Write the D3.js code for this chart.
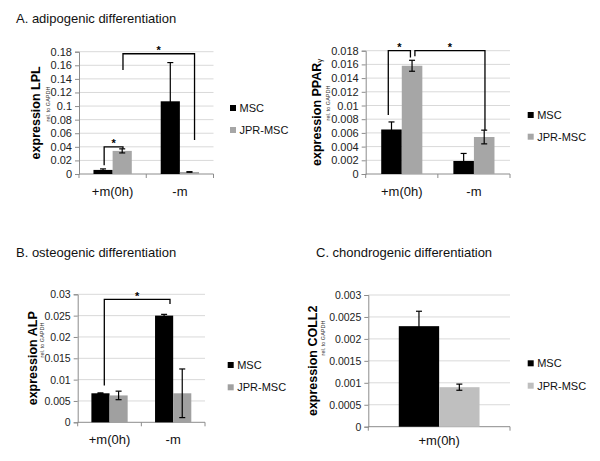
<!DOCTYPE html>
<html><head><meta charset="utf-8">
<script src="https://cdn.jsdelivr.net/npm/d3@7"></script>
<style>
html,body{margin:0;padding:0;background:#fff;}
svg{display:block;font-family:"Liberation Sans",Arial,sans-serif;}
</style></head>
<body><svg id="c" width="600" height="461"></svg>
<script>
// ---------- data ----------
const seriesNames = ["MSC", "JPR-MSC"];
const catsTwo = ["+m(0h)", "-m"];
const catsOne = ["+m(0h)"];

const lplMSC = [0.006, 0.107];
const lplMSCErr = [0.0015, 0.057];
const lplJPR = [0.034, 0.003];
const lplJPRErr = [0.003, 0.0004];
const lplTicks = [0, 0.02, 0.04, 0.06, 0.08, 0.1, 0.12, 0.14, 0.16, 0.18];
const lplTickLabels = ["0", "0.02", "0.04", "0.06", "0.08", "0.1", "0.12", "0.14", "0.16", "0.18"];

const pparMSC = [0.0065, 0.0019];
const pparMSCErr = [0.0011, 0.0011];
const pparJPR = [0.0158, 0.0054];
const pparJPRErr = [0.0008, 0.0010];
const pparTicks = [0, 0.002, 0.004, 0.006, 0.008, 0.01, 0.012, 0.014, 0.016, 0.018];
const pparTickLabels = ["0", "0.002", "0.004", "0.006", "0.008", "0.01", "0.012", "0.014", "0.016", "0.018"];

const alpMSC = [0.0068, 0.025];
const alpMSCErr = [0.0001, 0.0003];
const alpJPR = [0.0063, 0.0068];
const alpJPRErr = [0.001, 0.0057];
const alpTicks = [0, 0.005, 0.01, 0.015, 0.02, 0.025, 0.03];
const alpTickLabels = ["0", "0.005", "0.01", "0.015", "0.02", "0.025", "0.03"];

const collMSC = [0.00229];
const collMSCErr = [0.00034];
const collJPR = [0.0009];
const collJPRErr = [0.00007];
const collTicks = [0, 0.0005, 0.001, 0.0015, 0.002, 0.0025, 0.003];
const collTickLabels = ["0", "0.0005", "0.001", "0.0015", "0.002", "0.0025", "0.003"];

// significance brackets: [leftCat, leftFrac, leftBottom, top, rightCat, rightFrac, rightBottom]
const lplBrackets = [[0, 0.374, 0.013, 0.040, 0, 0.654, 0.037], [0, 0.654, 0.153, 0.177, 1, 0.718, 0.05]];
const pparBrackets = [[0, 0.313, 0.0086, 0.018, 0, 0.62, 0.0170], [0, 0.682, 0.0172, 0.018, 1, 0.653, 0.0064]];
const alpBrackets = [[0, 0.418, 0.0086, 0.0288, 1, 0.45, 0.0277]];
const collBrackets = [];

const titles = ["A. adipogenic differentiation", "B. osteogenic differentiation", "C. chondrogenic differentiation"];

// ---------- drawing ----------
const svg = d3.select("#c");
const gridColor = "#d9d9d9", axisColor = "#8c8c8c";

titles.forEach((t, i) => {
  const pos = [[16, 22.7], [16, 257], [316, 257]][i];
  svg.append("text").attr("x", pos[0]).attr("y", pos[1]).attr("font-size", 13).attr("fill", "#111").text(t);
});

function panel(cfg) {
  const g = svg.append("g");
  const y = d3.scaleLinear().domain([0, cfg.ticks[cfg.ticks.length - 1]]).range([cfg.yb, cfg.yt]);
  const x = d3.scaleBand().domain(cfg.cats).range([cfg.x0, cfg.x1]).paddingInner(0).paddingOuter(0);
  const xs = d3.scaleBand().domain(seriesNames).range([0, x.bandwidth()]).paddingInner(0).paddingOuter(0.755);

  // gridlines
  g.append("g").selectAll("line").data(cfg.ticks.slice(1)).join("line")
    .attr("x1", cfg.x0).attr("x2", cfg.x1).attr("y1", d => y(d)).attr("y2", d => y(d))
    .attr("stroke", gridColor).attr("stroke-width", 1);

  // y axis
  const yAxis = d3.axisLeft(y).tickValues(cfg.ticks).tickSize(4).tickPadding(3)
    .tickFormat((d, i) => cfg.tickLabels[i]);
  const ya = g.append("g").attr("transform", `translate(${cfg.x0},0)`).call(yAxis);
  ya.select(".domain").attr("stroke", axisColor);
  ya.selectAll(".tick line").attr("stroke", axisColor);
  ya.selectAll(".tick text").attr("font-size", cfg.tickFont).attr("fill", "#222")
    .attr("font-family", "'Liberation Sans',Arial,sans-serif");

  // x axis
  const xa = g.append("g").attr("transform", `translate(0,${cfg.yb})`)
    .call(d3.axisBottom(x).tickSize(0).tickPadding(cfg.xLabPad));
  xa.select(".domain").remove();
  xa.append("line").attr("x1", cfg.x0).attr("x2", cfg.x1).attr("stroke", axisColor);
  const bounds = [cfg.x0].concat(cfg.cats.map(c => x(c) + x.bandwidth()));
  xa.selectAll(".bnd").data(bounds).join("line").attr("class", "bnd")
    .attr("x1", d => d).attr("x2", d => d).attr("y1", 0).attr("y2", 4).attr("stroke", axisColor);
  xa.selectAll(".tick text").attr("font-size", 13).attr("fill", "#111")
    .attr("font-family", "'Liberation Sans',Arial,sans-serif");

  // bars
  const series = [{ name: "MSC", vals: cfg.msc, errs: cfg.mscErr, color: "#000" },
                  { name: "JPR-MSC", vals: cfg.jpr, errs: cfg.jprErr, color: cfg.jprColor }];
  series.forEach(s => {
    const data = cfg.cats.map((c, i) => ({ c, v: s.vals[i], e: s.errs[i] }));
    g.append("g").selectAll("rect").data(data).join("rect")
      .attr("x", d => x(d.c) + xs(s.name)).attr("width", xs.bandwidth())
      .attr("y", d => y(d.v)).attr("height", d => y(0) - y(d.v)).attr("fill", s.color);
    const eb = g.append("g").attr("stroke", "#000").attr("stroke-width", 1.2);
    data.forEach(d => {
      const cx = x(d.c) + xs(s.name) + xs.bandwidth() / 2;
      const yt = y(d.v + d.e), ybt = y(Math.max(0, d.v - d.e));
      eb.append("line").attr("x1", cx).attr("x2", cx).attr("y1", yt).attr("y2", ybt);
      eb.append("line").attr("x1", cx - 3).attr("x2", cx + 3).attr("y1", yt).attr("y2", yt);
      eb.append("line").attr("x1", cx - 3).attr("x2", cx + 3).attr("y1", ybt).attr("y2", ybt);
    });
  });

  // brackets
  cfg.brackets.forEach(b => {
    const xl = x(cfg.cats[b[0]]) + b[1] * x.bandwidth();
    const xr = x(cfg.cats[b[4]]) + b[5] * x.bandwidth();
    const pts = [[xl, y(b[2])], [xl, y(b[3])], [xr, y(b[3])], [xr, y(b[6])]];
    g.append("path").attr("d", d3.line()(pts)).attr("fill", "none")
      .attr("stroke", "#000").attr("stroke-width", 1.3);
    g.append("text").attr("x", (xl + xr) / 2).attr("y", y(b[3]) + 0.5)
      .attr("text-anchor", "middle").attr("font-size", 11).attr("font-weight", "bold").text("*");
  });

  // y label
  const yl = g.append("text").attr("transform", `translate(${cfg.labX},${(cfg.yt + cfg.yb) / 2}) rotate(-90)`)
    .attr("text-anchor", "middle").attr("dominant-baseline", "central")
    .attr("font-size", 12.5).attr("font-weight", "bold").attr("fill", "#000");
  yl.append("tspan").text(cfg.label);
  if (cfg.labelSuffix) yl.append("tspan").attr("font-size", 8).attr("font-weight", "normal").attr("dy", 1.5).text(cfg.labelSuffix);
  g.append("text").attr("transform", `translate(${cfg.subX},${cfg.subY}) rotate(-90)`)
    .attr("text-anchor", "middle").attr("dominant-baseline", "central")
    .attr("font-size", 5.5).attr("fill", "#333").text("rel. to GAPDH");

  // legend
  series.forEach((s, i) => {
    const ly = cfg.legY + i * cfg.legGap;
    g.append("rect").attr("x", cfg.legX).attr("y", ly - 3).attr("width", 6).attr("height", 6).attr("fill", s.color);
    g.append("text").attr("x", cfg.legX + 9.5).attr("y", ly).attr("dominant-baseline", "central")
      .attr("font-size", 11).attr("fill", "#111").text(s.name);
  });
}

panel({ cats: catsTwo, msc: lplMSC, mscErr: lplMSCErr, jpr: lplJPR, jprErr: lplJPRErr,
  ticks: lplTicks, tickLabels: lplTickLabels, brackets: lplBrackets, jprColor: "#a6a6a6",
  x0: 79, x1: 213.5, yt: 51.7, yb: 174, tickFont: 11, xLabPad: 13,
  label: "expression LPL", labX: 36, subX: 47.5, subY: 104, legX: 230, legY: 108, legGap: 22 });

panel({ cats: catsTwo, msc: pparMSC, mscErr: pparMSCErr, jpr: pparJPR, jprErr: pparJPRErr,
  ticks: pparTicks, tickLabels: pparTickLabels, brackets: pparBrackets, jprColor: "#a6a6a6",
  x0: 365.7, x1: 510, yt: 50.7, yb: 174, tickFont: 11, xLabPad: 13,
  label: "expression PPAR", labelSuffix: "γ", labX: 317, subX: 328, subY: 103, legX: 527.7, legY: 115, legGap: 21.7 });

panel({ cats: catsTwo, msc: alpMSC, mscErr: alpMSCErr, jpr: alpJPR, jprErr: alpJPRErr,
  ticks: alpTicks, tickLabels: alpTickLabels, brackets: alpBrackets, jprColor: "#a0a0a0",
  x0: 77.7, x1: 205, yt: 294.3, yb: 422.3, tickFont: 10.5, xLabPad: 12.5,
  label: "expression ALP", labX: 32.5, subX: 41.5, subY: 340, legX: 227.7, legY: 365, legGap: 22.3 });

panel({ cats: catsOne, msc: collMSC, mscErr: collMSCErr, jpr: collJPR, jprErr: collJPRErr,
  ticks: collTicks, tickLabels: collTickLabels, brackets: collBrackets, jprColor: "#bfbfbf",
  x0: 368.3, x1: 510, yt: 295, yb: 426.7, tickFont: 10.5, xLabPad: 9,
  label: "expression COLL2", labX: 313, subX: 323, subY: 338, legX: 527.7, legY: 363.3, legGap: 22.4 });
</script>
</body></html>
